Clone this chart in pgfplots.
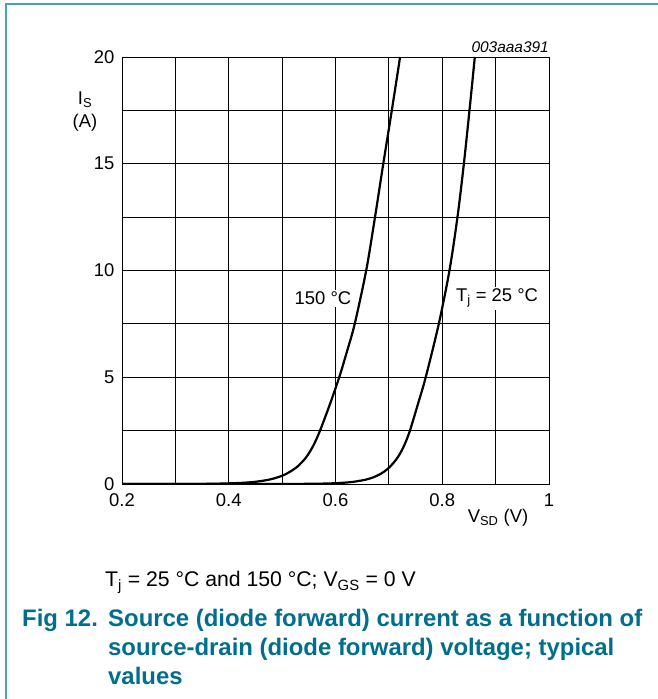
\documentclass[border=0pt]{standalone}
\usepackage{pgfplots}
\pgfplotsset{compat=1.18}
\usepackage{fontspec}
\setmainfont{Liberation Sans}
\definecolor{frameblue}{RGB}{70,160,190}
\definecolor{capteal}{RGB}{0,110,140}
\begin{document}
\begin{tikzpicture}[x=1bp,y=1bp]
\useasboundingbox (0,0) rectangle (658,699);
\draw[frameblue, line width=1.5bp] (6,0) -- (6,695) -- (658,695);
\begin{axis}[
 at={(122bp,215bp)}, anchor=south west,
 scale only axis, width=427bp, height=427bp,
 xmin=0.2, xmax=1, ymin=0, ymax=20,
 xtick={0.2,0.4,0.6,0.8,1}, xticklabels={0.2,0.4,0.6,0.8,1},
 minor xtick={0.3,0.5,0.7,0.9},
 ytick={0,5,10,15,20}, yticklabels={0,5,10,15,20},
 minor ytick={2.5,7.5,12.5,17.5},
 grid=both,
 major grid style={black, line width=0.8bp},
 minor grid style={black, line width=0.8bp},
 axis line style={black, line width=0.8bp},
 major tick length=0pt, minor tick length=0pt,
 tick style={draw=none},
 xticklabel style={font=\fontsize{18.5}{20}\selectfont, yshift=-6bp},
 yticklabel style={font=\fontsize{18.5}{20}\selectfont, xshift=-4bp},
]
\node[fill=white, inner sep=2bp, font=\fontsize{18.5}{20}\selectfont] at (axis cs:0.5766,8.71) {150 °C};
\node[fill=white, inner sep=2bp, font=\fontsize{18.5}{20}\selectfont] at (axis cs:0.9026,8.71) {T\textsubscript{j} = 25 °C};
% 150 C
\addplot[black, line width=2.2bp, smooth, tension=0.5] coordinates {
(0.2,0) (0.34,0) (0.361,0.01) (0.387,0.02) (0.422,0.05) (0.449,0.1) (0.475,0.2)
(0.4925,0.32) (0.5075,0.47) (0.528,0.8) (0.545,1.25) (0.5585,1.8) (0.571,2.5)
(0.589,3.7) (0.607,5) (0.622,6.25) (0.636,7.5) (0.6575,10)
(0.674,12.5) (0.6895,15) (0.7055,17.5) (0.721,20)};
% 25 C
\addplot[black, line width=2.2bp, smooth, tension=0.5] coordinates {
(0.2,0) (0.50,0) (0.534,0.005) (0.580,0.02) (0.610,0.05) (0.633,0.1) (0.656,0.2)
(0.6706,0.31) (0.6863,0.5) (0.701,0.78) (0.7166,1.25) (0.7286,1.8) (0.7394,2.5)
(0.7545,3.75) (0.769,5) (0.7935,7.5) (0.8135,10)
(0.8285,12.5) (0.8405,15) (0.851,17.5) (0.861,20)};
\end{axis}
\node[font=\fontsize{18.5}{20}\selectfont] at (85,599) {I\textsubscript{S}};
\node[font=\fontsize{18.5}{20}\selectfont] at (85,576) {(A)};
\node[anchor=east, font=\itshape\fontsize{15.5}{18}\selectfont, inner sep=0] at (549,652) {003aaa391};
\node[font=\fontsize{18.5}{20}\selectfont] at (498,181) {V\textsubscript{SD} (V)};
\node[anchor=base west, font=\fontsize{21.3}{24}\selectfont, inner sep=0] at (105,112) {T\textsubscript{j} = 25 °C and 150 °C; V\textsubscript{GS} = 0 V};
\node[anchor=base west, font=\bfseries\fontsize{24}{29}\selectfont, text=capteal, inner sep=0] at (22,72) {Fig 12.};
\node[anchor=base west, font=\bfseries\fontsize{24}{29}\selectfont, text=capteal, inner sep=0] at (108,72) {Source (diode forward) current as a function of};
\node[anchor=base west, font=\bfseries\fontsize{24}{29}\selectfont, text=capteal, inner sep=0] at (108,43) {source-drain (diode forward) voltage; typical};
\node[anchor=base west, font=\bfseries\fontsize{24}{29}\selectfont, text=capteal, inner sep=0] at (108,14) {values};
\end{tikzpicture}
\end{document}
